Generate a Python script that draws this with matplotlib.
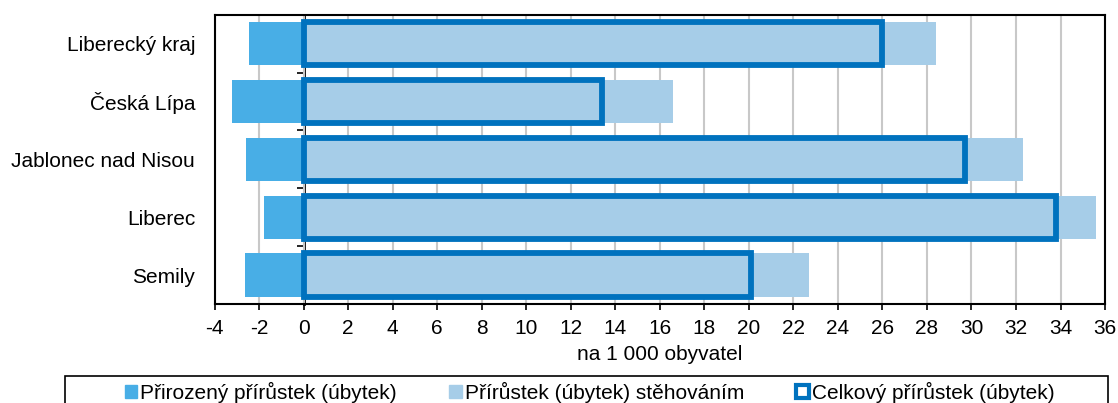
import matplotlib.pyplot as plt
from matplotlib.patches import Patch, Rectangle

plt.rcParams['font.family'] = ['Liberation Sans', 'DejaVu Sans']

regions = ["Liberecký kraj", "Česká Lípa", "Jablonec nad Nisou", "Liberec", "Semily"]
natural = [-2.45, -3.2, -2.6, -1.8, -2.65]
migration = [28.4, 16.6, 32.3, 35.6, 22.7]
total = [26.0, 13.4, 29.7, 33.8, 20.1]
xticks = list(range(-4, 37, 2))

c_nat = "#48AEE6"
c_mig = "#A6CDE8"
c_tot = "#0072BE"

fig = plt.figure(figsize=(11.18, 4.03), dpi=100)
ax = fig.add_axes([0.192, 0.2457, 0.7964, 0.7178])

y = list(range(len(regions)))
ax.barh(y, natural, height=0.75, color=c_nat, zorder=2)
ax.barh(y, migration, height=0.75, color=c_mig, zorder=2)
ax.barh(y, total, height=0.75, color=c_mig, edgecolor=c_tot, linewidth=4.2, zorder=3)

ax.set_xlim(-4, 36)
ax.set_ylim(len(regions) - 0.5, -0.5)
ax.set_xticks(xticks)
ax.set_xticklabels([str(v) for v in xticks], fontsize=15)
ax.set_yticks(y)
ax.set_yticklabels(regions, fontsize=15)
ax.tick_params(axis='y', length=0, pad=14)
ax.tick_params(axis='x', direction='out', length=4, width=1.2, pad=7)
ax.grid(axis='x', color='#C8C8C8', linewidth=1.5, zorder=0)
ax.set_axisbelow(True)
for s in ax.spines.values():
    s.set_linewidth(1.5)

# zero axis with category boundary ticks
sec = ax.secondary_yaxis(4 / 40)
sec.set_yticks([i + 0.5 for i in range(len(regions) - 1)])
sec.tick_params(length=5, width=1.2, labelleft=False)
sec.spines['left'].set_linewidth(2)

ax.set_xlabel("na 1 000 obyvatel", fontsize=15, labelpad=5)

handles = [Patch(facecolor=c_nat, edgecolor=c_nat),
           Patch(facecolor=c_mig, edgecolor=c_mig),
           Patch(facecolor='white', edgecolor=c_tot, linewidth=3)]
labels = ["Přirozený přírůstek (úbytek)", "Přírůstek (úbytek) stěhováním",
          "Celkový přírůstek (úbytek)"]
fig.legend(handles, labels, ncol=3, loc='center', bbox_to_anchor=(0.5273, 0.027),
           fontsize=15, frameon=False, handlelength=0.6, handleheight=0.6,
           handletextpad=0.15, columnspacing=2.5, borderaxespad=0, borderpad=0)
fig.patches.append(Rectangle((0.0581, -0.05), 0.933, 0.117, transform=fig.transFigure,
                             facecolor='none', edgecolor='black', linewidth=1.2))

fig.savefig("out.png", dpi=100)
